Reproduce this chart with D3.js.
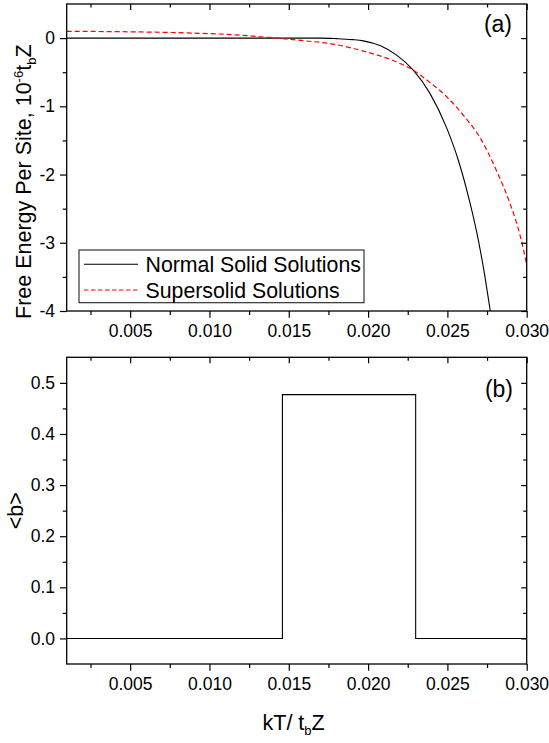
<!DOCTYPE html>
<html><head><meta charset="utf-8">
<script src="https://cdn.jsdelivr.net/npm/d3@7"></script>
<style>
html,body{margin:0;padding:0;background:#fff;}
svg{display:block;}
text{font-family:"Liberation Sans",Arial,sans-serif;fill:#000;}
</style></head>
<body>
<script>
// ---------- data ----------
const xMajor = [0.005, 0.010, 0.015, 0.020, 0.025, 0.030];
const xMinor = [0.0025, 0.0075, 0.0125, 0.0175, 0.0225, 0.0275];
const topYMajor = [-4, -3, -2, -1, 0];
const topYMinor = [-3.5, -2.5, -1.5, -0.5];
const botYMajor = [0.0, 0.1, 0.2, 0.3, 0.4, 0.5];
const botYMinor = [0.05, 0.15, 0.25, 0.35, 0.45];

// Normal Solid Solutions (black, solid)
const normalT = [0.001, 0.005, 0.010, 0.015, 0.0170, 0.0180, 0.0190, 0.0197, 0.02075, 0.0218, 0.02285, 0.0239, 0.02496, 0.02569, 0.02643, 0.02695, 0.02737, 0.02769, 0.0278];
const normalF = [0, 0, 0, 0, 0, -0.008, -0.022, -0.04, -0.11, -0.25, -0.47, -0.81, -1.32, -1.79, -2.42, -2.96, -3.50, -3.98, -4.15];
// Supersolid Solutions (red, dashed)
const superT = [0.001, 0.004, 0.007, 0.009, 0.0115, 0.0142, 0.0160, 0.0176, 0.0197, 0.0218, 0.02285, 0.0239, 0.02496, 0.0260, 0.02706, 0.02811, 0.02894, 0.02957, 0.0300];
const superF = [0.10, 0.095, 0.085, 0.073, 0.05, 0.0, -0.04, -0.08, -0.19, -0.35, -0.47, -0.65, -0.86, -1.13, -1.46, -1.95, -2.42, -2.88, -3.32];
// panel (b) order parameter <b>
const stepT = [0.001, 0.0146, 0.0146, 0.0230, 0.0230, 0.030];
const stepB = [0, 0, 0.477, 0.477, 0, 0];

const legendLabels = ["Normal Solid Solutions", "Supersolid Solutions"];

// ---------- layout ----------
const W = 549, H = 743;
const L = 66.7, R = 526.7;
const A = {top: 4, bottom: 311};
const B = {top: 357.3, bottom: 664};

const svg = d3.select("body").append("svg").attr("width", W).attr("height", H);

const x = d3.scaleLinear().domain([0.001, 0.030]).range([L, R]);
const yA = d3.scaleLinear().domain([-4, 0.5]).range([A.bottom, A.top]);
const yB = d3.scaleLinear().domain([-0.05, 0.55]).range([B.bottom, B.top]);

const tickFont = 17.5;

function drawAxes(y, P, yMaj, yMin, yFmt) {
  const g = svg.append("g");
  const style = sel => {
    sel.select(".domain").remove();
    sel.selectAll("line").attr("stroke", "#000").attr("stroke-width", 1.2);
    sel.selectAll("text").attr("font-size", tickFont)
      .attr("font-family", '"Liberation Sans",Arial,sans-serif').attr("fill", "#000");
  };
  // bottom (outward)
  g.append("g").attr("transform", `translate(0,${P.bottom})`)
    .call(d3.axisBottom(x).tickValues(xMajor).tickSize(6.7).tickPadding(7).tickFormat(d3.format(".3f"))).call(style);
  g.append("g").attr("transform", `translate(0,${P.bottom})`)
    .call(d3.axisBottom(x).tickValues(xMinor).tickSize(4).tickFormat("")).call(style);
  // top (inward)
  g.append("g").attr("transform", `translate(0,${P.top})`)
    .call(d3.axisTop(x).tickValues(xMajor).tickSize(-6).tickFormat("")).call(style);
  g.append("g").attr("transform", `translate(0,${P.top})`)
    .call(d3.axisTop(x).tickValues(xMinor).tickSize(-3.5).tickFormat("")).call(style);
  // left (outward)
  g.append("g").attr("transform", `translate(${L},0)`)
    .call(d3.axisLeft(y).tickValues(yMaj).tickSize(6.7).tickPadding(5).tickFormat(yFmt)).call(style);
  g.append("g").attr("transform", `translate(${L},0)`)
    .call(d3.axisLeft(y).tickValues(yMin).tickSize(4).tickFormat("")).call(style);
  // right (inward)
  g.append("g").attr("transform", `translate(${R},0)`)
    .call(d3.axisRight(y).tickValues(yMaj).tickSize(-5.5).tickFormat("")).call(style);
  g.append("g").attr("transform", `translate(${R},0)`)
    .call(d3.axisRight(y).tickValues(yMin).tickSize(-3.5).tickFormat("")).call(style);
  // frame
  g.append("rect").attr("x", L).attr("y", P.top).attr("width", R - L).attr("height", P.bottom - P.top)
    .attr("fill", "none").attr("stroke", "#000").attr("stroke-width", 1.3);
}

// clip paths
const defs = svg.append("defs");
defs.append("clipPath").attr("id", "clipA").append("rect")
  .attr("x", L).attr("y", A.top).attr("width", R - L).attr("height", A.bottom - A.top);
defs.append("clipPath").attr("id", "clipB").append("rect")
  .attr("x", L).attr("y", B.top).attr("width", R - L).attr("height", B.bottom - B.top);

// ---------- panel (a) ----------
const normal = normalT.map((t, i) => [t, normalF[i]]);
const superS = superT.map((t, i) => [t, superF[i]]);
const lineA = d3.line().x(d => x(d[0])).y(d => yA(d[1])).curve(d3.curveMonotoneX);
const gA = svg.append("g").attr("clip-path", "url(#clipA)");
gA.append("path").datum(normal).attr("d", lineA).attr("fill", "none")
  .attr("stroke", "#000").attr("stroke-width", 1.1);
gA.append("path").datum(superS).attr("d", lineA).attr("fill", "none")
  .attr("stroke", "#ff0000").attr("stroke-width", 1.2).attr("stroke-dasharray", "5,3");

drawAxes(yA, A, topYMajor, topYMinor, d => String(d));

// legend
const lg = svg.append("g");
lg.append("rect").attr("x", 79).attr("y", 250).attr("width", 285).attr("height", 52.7)
  .attr("fill", "#fff").attr("stroke", "#222").attr("stroke-width", 1.1);
const legStyles = [{c: "#000", d: null, y: 264.3}, {c: "#ff0000", d: "4.5,2.5", y: 290}];
legendLabels.forEach((lab, i) => {
  const s = legStyles[i];
  lg.append("line").attr("x1", 84).attr("x2", 138).attr("y1", s.y).attr("y2", s.y)
    .attr("stroke", s.c).attr("stroke-width", 1.1).attr("stroke-dasharray", s.d);
  lg.append("text").attr("x", 145.5).attr("y", s.y + 7.6).attr("font-size", 21.3).text(lab);
});

svg.append("text").attr("x", 512).attr("y", 32).attr("text-anchor", "end")
  .attr("font-size", 23).text("(a)");

// y title (a)
const tA = svg.append("text").attr("transform", "translate(31,319) rotate(-90)")
  .attr("font-size", 21.5);
tA.append("tspan").text("Free Energy Per Site, 10");
tA.append("tspan").attr("font-size", 13).attr("dy", -8.5).text("-6");
tA.append("tspan").attr("dy", 8.5).text("t");
tA.append("tspan").attr("font-size", 13).attr("dy", 5).text("b");
tA.append("tspan").attr("dy", -5).text("Z");

// ---------- panel (b) ----------
const step = stepT.map((t, i) => [t, stepB[i]]);
const lineB = d3.line().x(d => x(d[0])).y(d => yB(d[1]));
svg.append("g").attr("clip-path", "url(#clipB)").append("path").datum(step)
  .attr("d", lineB).attr("fill", "none").attr("stroke", "#000").attr("stroke-width", 1.1);

drawAxes(yB, B, botYMajor, botYMinor, d3.format(".1f"));

svg.append("text").attr("x", 513).attr("y", 397).attr("text-anchor", "end")
  .attr("font-size", 23).text("(b)");

svg.append("text").attr("transform", `translate(23,${(B.top + B.bottom) / 2}) rotate(-90)`)
  .attr("text-anchor", "middle").attr("font-size", 21.5).text("<b>");

// x title
const tX = svg.append("text").attr("x", 262.5).attr("y", 730).attr("font-size", 21.5);
tX.append("tspan").text("kT/ t");
tX.append("tspan").attr("font-size", 13).attr("dy", 5).text("b");
tX.append("tspan").attr("dy", -5).text("Z");
</script>
</body></html>
